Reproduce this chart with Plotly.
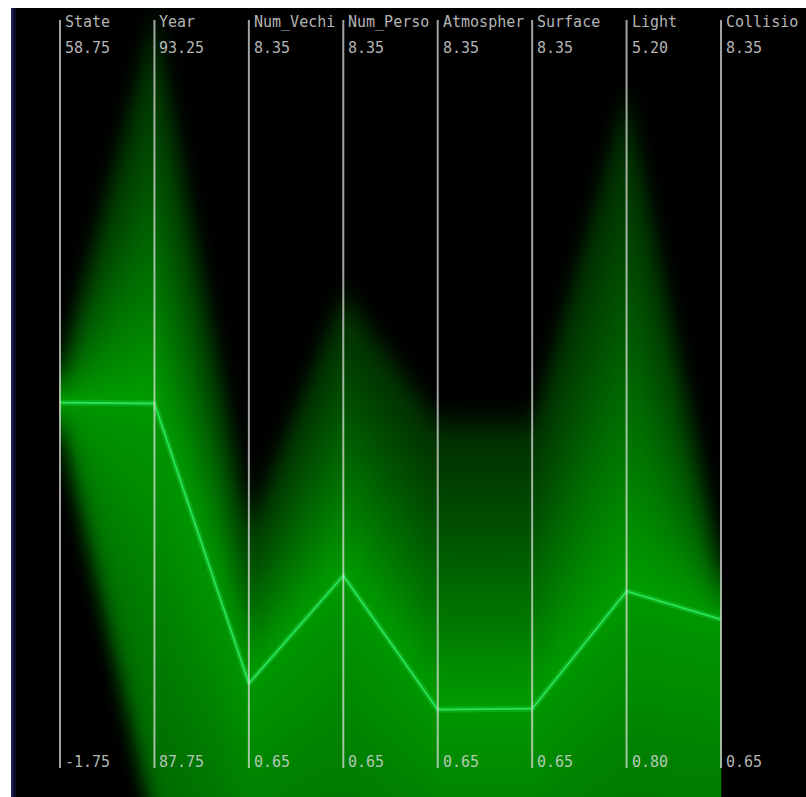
import numpy as np
import plotly.graph_objects as go

# ---------------- data ----------------
names = ["State", "Year", "Num_Vechi", "Num_Perso", "Atmospher", "Surface", "Light", "Collisio"]
axis_min = [-1.75, 87.75, 0.65, 0.65, 0.65, 0.65, 0.80, 0.65]
axis_max = [58.75, 93.25, 8.35, 8.35, 8.35, 8.35, 5.20, 8.35]
mean_vals = [27.8, 90.43, 1.52, 2.63, 1.25, 1.26, 1.84, 2.18]
band_hi = [31.25, 93.32, 3.20, 5.57, 4.23, 4.23, 4.79, 2.79]
band_lo = [25.59, 87.29, -1.22, -1.22, -1.22, -1.22, -0.27, -1.22]
top_labels = ["58.75", "93.25", "8.35", "8.35", "8.35", "8.35", "5.20", "8.35"]
bottom_labels = ["-1.75", "87.75", "0.65", "0.65", "0.65", "0.65", "0.80", "0.65"]


def norm(vals):
    return np.array([(v - a) / (b - a) for v, a, b in zip(vals, axis_min, axis_max)])


M_ax = norm(mean_vals)
U_ax = norm(band_hi)
L_ax = norm(band_lo)
n_ax = len(names)

# ---------------- density field ----------------
per_seg = 64
xs = np.linspace(0, n_ax - 1, (n_ax - 1) * per_seg + 1)
ys = np.linspace(-0.045, 1.02, 520)
seg = np.minimum(xs.astype(int), n_ax - 2)
t = xs - seg
M = M_ax[seg] + (M_ax[seg + 1] - M_ax[seg]) * t
U = U_ax[seg] + (U_ax[seg + 1] - U_ax[seg]) * t
L = L_ax[seg] + (L_ax[seg + 1] - L_ax[seg]) * t

Y = ys[:, None]
soft = 0.035


def smooth(e):
    s = np.clip((e + soft) / (2 * soft), 0, 1)
    return s * s * (3 - 2 * s)


up_w = np.maximum(U - M, 1e-6)
r_up = np.clip((Y - M) / up_w, 0, 1)
i_up = (0.28 + 0.72 * (1 - r_up) ** 1.15) * smooth(U - Y)

dn_w = np.maximum(M - L, 1e-6)
r_dn = np.clip((M - Y) / dn_w, 0, 1)
i_dn = (0.95 - 0.3 * r_dn) * smooth(Y - L)

Z = np.where(Y >= M, i_up, i_dn)

# horizontal blur
k = np.exp(-0.5 * (np.arange(-15, 16) / 6.0) ** 2)
k /= k.sum()
Zp = np.pad(Z, ((0, 0), (15, 15)), mode="edge")
Zb = np.apply_along_axis(lambda row: np.convolve(row, k, mode="valid"), 1, Zp)

fig = go.Figure()
fig.add_trace(go.Heatmap(
    x=xs, y=ys, z=Zb, zmin=0, zmax=1, zsmooth="best", showscale=False,
    hoverinfo="skip",
    colorscale=[[0, "rgb(0,0,0)"], [0.5, "rgb(0,78,0)"], [1, "rgb(0,158,0)"]],
))

xi = list(range(n_ax))
fig.add_trace(go.Scatter(x=xi, y=M_ax, mode="lines", hoverinfo="skip",
                         line=dict(color="rgba(50,235,100,0.25)", width=6)))
fig.add_trace(go.Scatter(x=xi, y=M_ax, mode="lines", hoverinfo="skip",
                         line=dict(color="rgb(40,228,90)", width=1.8)))

shapes = []
for i in range(n_ax):
    shapes.append(dict(type="line", xref="x", yref="y", x0=i, x1=i, y0=0, y1=1,
                       line=dict(color="rgba(225,225,225,0.72)", width=2)))
# navy strip on the left edge
shapes.append(dict(type="rect", xref="paper", yref="paper", x0=0, x1=0.0028, y0=0, y1=1,
                   line=dict(width=0), fillcolor="rgb(32,32,88)", layer="below"))
shapes.append(dict(type="rect", xref="paper", yref="paper", x0=0.0028, x1=0.0065, y0=0, y1=1,
                   line=dict(width=0), fillcolor="rgb(12,12,40)", layer="below"))

annotations = []
font = dict(family="DejaVu Sans Mono", size=15, color="rgba(215,215,215,0.85)")
for i in range(n_ax):
    for txt, yy in ((names[i], 0.9973), (top_labels[i], 0.9626), (bottom_labels[i], 0.008)):
        annotations.append(dict(x=i, y=yy, xref="x", yref="y", text=txt, showarrow=False,
                                xanchor="left", yanchor="middle", xshift=3, font=font))

fig.update_layout(
    width=806, height=797, autosize=False,
    margin=dict(l=11, r=0, t=8, b=0, pad=0),
    paper_bgcolor="white", plot_bgcolor="black",
    showlegend=False,
    xaxis=dict(range=[-0.519, 7.9], visible=False, fixedrange=True),
    yaxis=dict(range=[-0.0388, 1.016], visible=False, fixedrange=True),
    shapes=shapes, annotations=annotations,
)

fig.write_html("out.html", config={"displayModeBar": False},
               post_script="document.body.style.margin='0';document.body.style.overflow='hidden';")
